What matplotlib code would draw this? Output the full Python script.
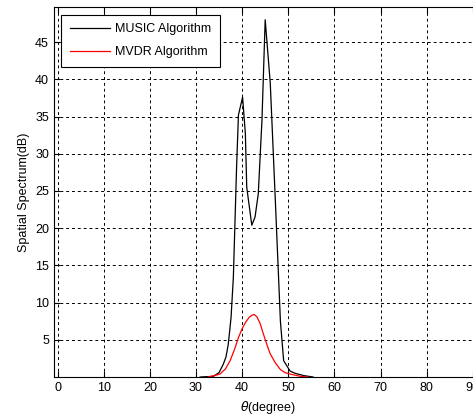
import matplotlib
matplotlib.use("Agg")
import matplotlib.pyplot as plt

plt.rcParams['font.family'] = ['Liberation Sans', 'DejaVu Sans']

# MUSIC spectrum
music_theta = [30.9, 33.8, 35.0, 35.9, 36.5, 37.0, 37.6, 38.1, 38.8, 39.2,
               40.1, 40.7, 41.0, 42.1, 42.8, 43.5, 44.3, 45.0, 46.1, 47.2,
               48.3, 49.0, 50.4, 51.5, 53.3, 55.4]
music_db = [0.0, 0.1, 0.6, 1.7, 2.7, 4.4, 8.0, 13.4, 28.2, 35.2,
            37.6, 32.7, 25.5, 20.4, 21.5, 24.6, 34.5, 48.0, 39.5, 23.7,
            7.5, 2.2, 0.8, 0.5, 0.2, 0.0]

# MVDR spectrum
mvdr_theta = [32.6, 34.0, 35.2, 36.4, 37.4, 38.4, 39.2, 40.0, 40.7, 41.5,
              42.1, 42.6, 43.2, 43.9, 44.6, 45.4, 46.1, 47.2, 48.3, 49.3,
              50.4, 52.6, 54.3]
mvdr_db = [0.0, 0.2, 0.4, 1.1, 2.2, 3.8, 5.3, 6.5, 7.3, 8.0,
           8.3, 8.4, 8.1, 7.2, 5.8, 4.3, 3.1, 1.9, 1.0, 0.6,
           0.4, 0.1, 0.0]

xticks = list(range(0, 100, 10))
yticks = list(range(5, 50, 5))

fig = plt.figure(figsize=(4.73, 4.18), dpi=100)
ax = fig.add_axes([0.114, 0.098, 0.905, 0.885])

ax.plot(music_theta, music_db, color='black', lw=0.9, label='MUSIC Algorithm')
ax.plot(mvdr_theta, mvdr_db, color='red', lw=0.9, label='MVDR Algorithm')

ax.set_xlim(-0.8, 92)
ax.set_ylim(0, 49.7)
ax.set_xticks(xticks)
ax.set_yticks(yticks)
ax.tick_params(direction='in', labelsize=9, top=True, right=True, length=4)
ax.grid(True, color='black', linestyle=(0, (3, 3)), lw=0.7)

ax.set_xlabel(r'$\theta$(degree)', fontsize=9)
ax.set_ylabel('Spatial Spectrum(dB)', fontsize=9)

leg = ax.legend(loc='upper left', fontsize=9, fancybox=False, framealpha=1,
                edgecolor='black', borderaxespad=0.6, handlelength=3.2,
                handletextpad=0.4, labelspacing=0.85, borderpad=0.7)
leg.get_frame().set_linewidth(0.8)

fig.savefig('out.png', dpi=100)
